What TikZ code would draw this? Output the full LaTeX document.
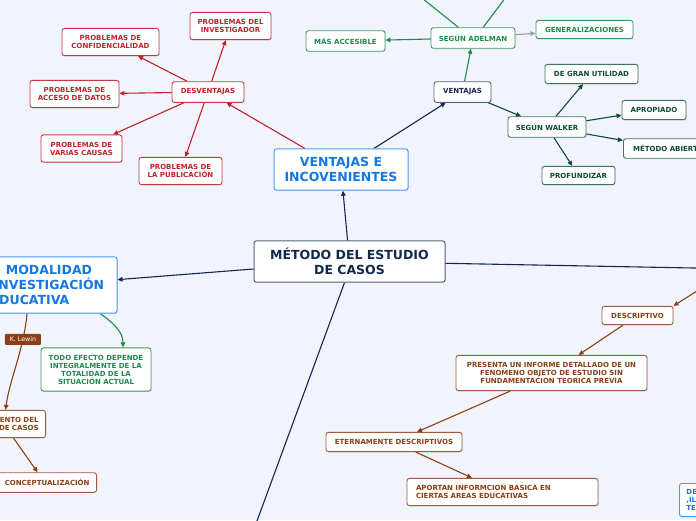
\documentclass[tikz,border=0pt]{standalone}
\usepackage{fontspec}
\setmainfont{DejaVu Sans}
\usetikzlibrary{arrows.meta,shadows}

\definecolor{fondo}{HTML}{F1F4FD}
\definecolor{rojo}{HTML}{C0232C}
\definecolor{rojoborde}{HTML}{C43A42}
\definecolor{marino}{HTML}{14284E}
\definecolor{marinoborde}{HTML}{56647F}
\definecolor{azul}{HTML}{1577E0}
\definecolor{azulborde}{HTML}{4D9BF0}
\definecolor{verde}{HTML}{1E8A4A}
\definecolor{verdeborde}{HTML}{3A9A62}
\definecolor{verdeoscuro}{HTML}{0E4A36}
\definecolor{oscuroborde}{HTML}{3F7463}
\definecolor{cafe}{HTML}{8A3F14}
\definecolor{cafeborde}{HTML}{9C5C3C}
\definecolor{gris}{HTML}{9A9AA8}

\begin{document}
\begin{tikzpicture}[x=1pt,y=-1pt,
    box/.style={draw, fill=white, rounded corners=2.5pt, line width=0.9pt, align=center,
        font=\fontsize{7}{8}\selectfont\bfseries, inner xsep=3pt, inner ysep=7pt,
        drop shadow={shadow xshift=0.6pt, shadow yshift=-0.8pt, opacity=0.2}},
    bigbox/.style={box, line width=1pt, font=\fontsize{12.5}{15}\selectfont\bfseries, inner ysep=8.5pt},
    redbox/.style={box, draw=rojoborde, text=rojo},
    navybox/.style={box, draw=marinoborde, text=marino},
    bluebox/.style={box, draw=azulborde, text=azul},
    greenbox/.style={box, draw=verdeborde, text=verde},
    darkbox/.style={box, draw=oscuroborde, text=verdeoscuro},
    brownbox/.style={box, draw=cafeborde, text=cafe},
    bignavy/.style={bigbox, draw=marinoborde, text=marino},
    bigblue/.style={bigbox, draw=azulborde, text=azul},
    lewin/.style={fill=cafe, text=white, rounded corners=1pt, inner sep=1pt,
        minimum width=36pt, minimum height=11pt, font=\fontsize{6.3}{7}\selectfont},
    link/.style={-{Triangle[length=5pt,width=4.5pt]}, line width=1.1pt}]

\useasboundingbox (0,0) rectangle (696,520);
\fill[fondo] (0,0) rectangle (696,520);
\clip (0,0) rectangle (696,520);

% centre and main branches
\node[bignavy, minimum width=191pt, inner ysep=7.3pt] (metodo) at (349.5,261.5) {MÉTODO DEL ESTUDIO\\DE CASOS};
\node[bigblue, minimum width=134pt] (ventajas_inc) at (341,169.5) {VENTAJAS E\\INCOVENIENTES};
\node[bigblue, minimum width=136pt] (modalidad) at (49,285) {MODALIDAD\\INVESTIGACIÓN\\EDUCATIVA\hspace*{38pt}};

% desventajas
\node[redbox, minimum width=72pt] (desventajas) at (208,92) {DESVENTAJAS};
\node[redbox, minimum width=97pt] (prob_conf) at (110.5,42) {PROBLEMAS DE\\CONFIDENCIALIDAD};
\node[redbox, minimum width=81pt] (prob_inv) at (230.5,26) {PROBLEMAS DEL\\INVESTIGADOR};
\node[redbox, minimum width=89pt] (prob_acceso) at (74.5,94) {PROBLEMAS DE\\ACCESO DE DATOS};
\node[redbox, minimum width=81pt] (prob_causas) at (81.5,148.5) {PROBLEMAS DE\\VARIAS CAUSAS};
\node[redbox, minimum width=83pt] (prob_publ) at (180.5,171) {PROBLEMAS DE\\LA PUBLICACIÓN};

% ventajas
\node[navybox, minimum width=57pt] (ventajas) at (462.5,92) {VENTAJAS};
\node[greenbox, minimum width=84pt] (adelman) at (473,38) {SEGÚN ADELMAN};
\node[greenbox, minimum width=79pt] (accesible) at (345.5,41) {MÁS ACCESIBLE};
\node[greenbox, minimum width=97pt, inner ysep=6.5pt] (generalizaciones) at (584.5,29.5) {GENERALIZACIONES};
\node[darkbox, minimum width=78pt] (walker) at (547,127) {SEGÚN WALKER};
\node[darkbox, minimum width=93pt] (utilidad) at (591.5,74) {DE GRAN UTILIDAD};
\node[darkbox, minimum width=64pt] (apropiado) at (654,110) {APROPIADO};
\node[darkbox, minimum width=90pt, anchor=west, inner ysep=6.5pt] (abierto) at (623,148.5) {MÉTODO ABIERTO};
\node[darkbox, minimum width=73pt, inner ysep=6.5pt] (profundizar) at (578.5,175.5) {PROFUNDIZAR};

% modalidad
\node[greenbox, minimum width=110pt] (todo_efecto) at (96,369.5) {TODO EFECTO DEPENDE\\INTEGRALMENTE DE LA\\TOTALIDAD DE LA\\SITUACIÓN ACTUAL};
\node[brownbox, anchor=east, text width=60pt, align=right, inner xsep=7pt] (surgimiento) at (46,424) {ENTO DEL\\DE CASOS};
\node[brownbox, anchor=east, text width=90pt, align=right, inner xsep=7pt, inner ysep=6.5pt] (concepto) at (97,482.5) {CONCEPTUALIZACIÓN};

% descriptivo
\node[brownbox, minimum width=71pt, inner ysep=6.5pt] (descriptivo) at (637.5,315.5) {DESCRIPTIVO};
\node[brownbox, minimum width=191pt] (presenta) at (551.5,373) {PRESENTA UN INFORME DETALLADO DE UN\\FENOMENO OBJETO DE ESTUDIO SIN\\FUNDAMENTACION TEORICA PREVIA};
\node[brownbox, minimum width=136pt] (eternamente) at (394,442) {ETERNAMENTE DESCRIPTIVOS};
\node[brownbox, text width=173pt, align=left, inner xsep=9pt] (aportan) at (502.5,492) {APORTAN INFORMCION BASICA EN\\CIERTAS AREAS EDUCATIVAS};
\node[bluebox, anchor=north west, text width=40pt, align=left, inner xsep=7pt, inner ysep=6pt] (cortado) at (679,483) {DE\\,IL\\TE};

% free ends outside the page
\coordinate (sale_derecha) at (720,268.5);
\coordinate (sale_abajo) at (250,540);
\coordinate (entra_derecha) at (720,276.5);
\coordinate (sale_arriba1) at (399.4,-20);
\coordinate (sale_arriba2) at (518.7,-20);

% connectors
\draw[link, marino] (metodo) -- (ventajas_inc);
\draw[link, marino] (metodo) -- (modalidad);
\draw[line width=1.1pt, marino] (metodo) -- (sale_derecha);
\draw[line width=1.1pt, marino] ([xshift=-5pt]metodo.south) -- (sale_abajo);

\draw[link, rojo] (ventajas_inc) -- (desventajas);
\draw[link, marino] (ventajas_inc) -- (ventajas);

\draw[link, rojo] (desventajas) -- (prob_conf);
\draw[link, rojo] (desventajas) -- (prob_inv);
\draw[link, rojo] (desventajas) -- (prob_acceso);
\draw[link, rojo] (desventajas) -- (prob_causas);
\draw[link, rojo] (desventajas) -- (prob_publ);

\draw[link, verde] (ventajas) -- (adelman);
\draw[link, verde] (adelman) -- (accesible);
\draw[link, gris] (adelman) -- (generalizaciones);
\draw[line width=1.1pt, verde] ([xshift=-14.7pt]adelman.north) -- (sale_arriba1);
\draw[line width=1.1pt, verde] ([xshift=10.3pt]adelman.north) -- (sale_arriba2);

\draw[link, verdeoscuro] (ventajas) -- (walker);
\draw[link, verdeoscuro] (walker) -- (utilidad);
\draw[link, verdeoscuro] (walker) -- (apropiado);
\draw[link, verdeoscuro] (walker) -- (abierto);
\draw[link, verdeoscuro] (walker) -- (profundizar);

\draw[link, verde] ([xshift=-17pt]modalidad.south east) .. controls +(14,10) and +(0,-15) .. ([xshift=27pt]todo_efecto.north);
\draw[link, cafe] ([xshift=-22pt]modalidad.south) .. controls +(-3,35) and +(4,-30) .. ([xshift=-3pt]surgimiento.north)
    node[lewin, pos=0.25] (lewin_lbl) {K. Lewin};
\draw[link, cafe] ([xshift=5pt]surgimiento.south) -- ([xshift=-7pt]concepto.north);

\draw[link, cafe] (entra_derecha) -- (descriptivo.north east);
\draw[link, cafe] (descriptivo) -- (presenta);
\draw[link, cafe] (presenta) -- (eternamente);
\draw[link, cafe] (eternamente) -- (aportan);
\end{tikzpicture}
\end{document}
